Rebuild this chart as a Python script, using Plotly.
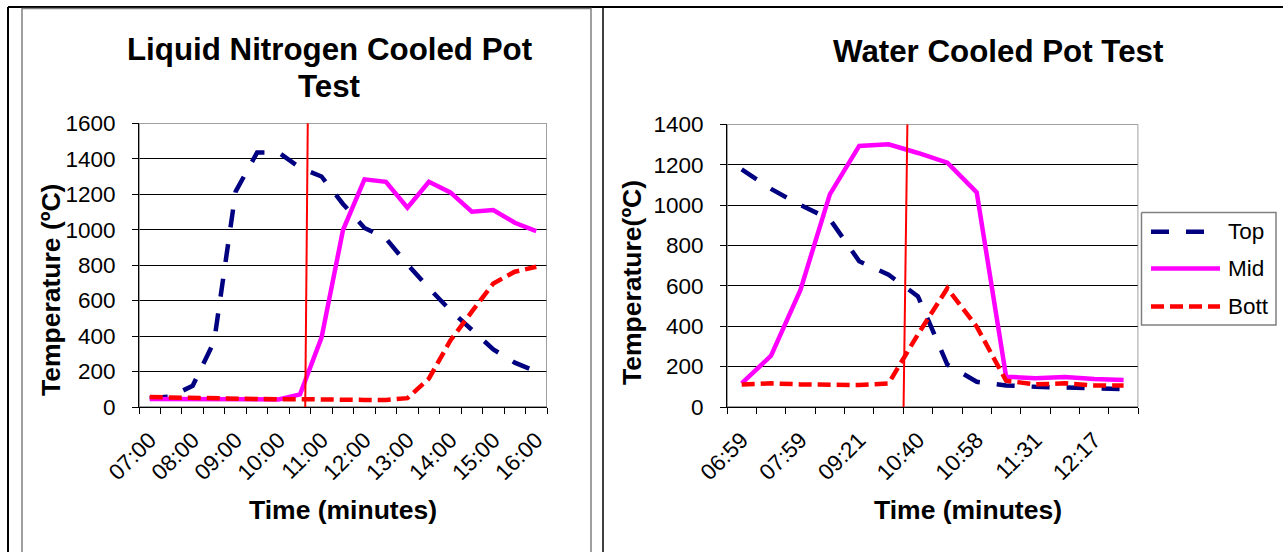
import plotly.graph_objects as go

W, H = 1284, 552
FONT = "Liberation Sans, Arial, sans-serif"

# ---------------- data ----------------
ln_times = ["07:00", "07:30", "08:00", "08:30", "09:00", "09:30", "10:00", "10:30",
            "11:00", "11:30", "12:00", "12:30", "13:00", "13:30", "14:00", "14:30",
            "15:00", "15:30", "16:00"]
ln_top = [50, 60, 120, 370, 1215, 1435, 1435, 1350, 1300, 1145, 1010, 950, 805, 670,
          545, 435, 325, 250, 200]
ln_mid = [45, 44, 43, 42, 40, 40, 43, 71, 391, 998, 1284, 1270, 1124, 1270, 1210,
          1101, 1111, 1039, 992]
ln_bott = [56, 53, 49, 46, 43, 43, 43, 44, 41, 40, 40, 40, 50, 160, 375, 538, 697,
           763, 791]
ln_tick_labels = ["07:00", "08:00", "09:00", "10:00", "11:00", "12:00", "13:00",
                  "14:00", "15:00", "16:00"]
ln_marker_x = [7.24, 7.36]     # red vertical marker (category units), bottom/top
ln_marker_y = [-15, 1609]

wc_tick_labels = ["06:59", "07:59", "09:21", "10:40", "10:58", "11:31", "12:17"]
wc_top = [1177, 1080, 1000, 930, 722, 655, 548, 210, 125, 107, 100, 96, 89, 89]
wc_mid = [117, 254, 580, 1053, 1293, 1301, 1258, 1210, 1063, 150, 142, 149, 139, 134]
wc_bott = [112, 117, 112, 109, 109, 117, 360, 588, 398, 130, 112, 117, 107, 106]
wc_marker_x = [5.51, 5.64]
wc_marker_y = [0, 1400]

series_names = ["Top", "Mid", "Bott"]
colors = {"Top": "#000080", "Mid": "#FF00FF", "Bott": "#FF0000"}
dashes = {"Top": "18px,17px", "Mid": "solid", "Bott": "13px,6px"}
widths = {"Top": 4.5, "Mid": 4.5, "Bott": 4.5}


def px(x):
    return x / W


def py(y):
    return (H - y) / H


fig = go.Figure()


def deco(x, y, color, width, xa="x3", ya="y3", dash="solid"):
    fig.add_trace(go.Scatter(x=x, y=y, mode="lines", xaxis=xa, yaxis=ya,
                             showlegend=False, hoverinfo="skip", cliponaxis=False,
                             line=dict(color=color, width=width, dash=dash)))


n_ln = len(ln_times)
n_wc = len(wc_top)

# gray plot-area borders (under the data)
deco([-0.5, n_ln - 0.5, n_ln - 0.5, -0.5, -0.5], [0, 0, 1600, 1600, 0], "#808080", 1.5, "x", "y")
deco([-0.5, n_wc - 0.5, n_wc - 0.5, -0.5, -0.5], [0, 0, 1400, 1400, 0], "#808080", 1.5, "x2", "y2")

for axis_id, data in (("", (ln_top, ln_mid, ln_bott)), ("2", (wc_top, wc_mid, wc_bott))):
    for name, vals in zip(series_names, data):
        fig.add_trace(go.Scatter(
            x=list(range(len(vals))), y=vals, mode="lines", name=name,
            xaxis="x" + axis_id, yaxis="y" + axis_id, showlegend=False,
            line=dict(color=colors[name], width=widths[name], dash=dashes[name]),
            hoverinfo="skip"))

# red vertical markers
deco(ln_marker_x, ln_marker_y, "#FF0000", 2, "x", "y")
deco(wc_marker_x[::-1], wc_marker_y[::-1], "#FF0000", 2, "x2", "y2")

# page frame lines (pixel space overlay axis)
deco([8, W - 1], [7, 7], "black", 2)
deco([8, 8], [7, H], "black", 2)
deco([603, 603], [7, H], "black", 1.5)
deco([22, 22, 591, 591], [H, 8.5, 8.5, H], "#808080", 1.5)

# legend box and samples
legend_y = [231.7, 268.5, 306.5]
deco([1141.5, 1276, 1276, 1141.5, 1141.5], [212.5, 212.5, 325, 325, 212.5], "#808080", 1.5)
for name, ly in zip(series_names, legend_y):
    deco([1151, 1220], [ly, ly], colors[name], widths[name], dash=dashes[name])

common_x = dict(
    showline=True, linecolor="black", linewidth=1, showgrid=False, zeroline=False,
    tickmode="array", ticks="", tickangle=-45, automargin=False,
    tickfont=dict(family=FONT, size=22.5, color="black"),
    ticklabelstandoff=10,
)
common_y = dict(
    showline=True, linecolor="black", linewidth=1, showgrid=True, gridcolor="black",
    gridwidth=1, zeroline=False, ticks="outside", ticklen=6, tickcolor="black",
    tickfont=dict(family=FONT, size=22.5, color="black"), dtick=200, automargin=False,
    ticklabelstandoff=12,
)

fig.update_layout(
    width=W, height=H, autosize=False,
    margin=dict(l=0, r=0, t=0, b=0, pad=0, autoexpand=False),
    paper_bgcolor="white", plot_bgcolor="rgba(0,0,0,0)", showlegend=False,
    xaxis=dict(common_x, domain=[px(139), px(547)], range=[-0.5, n_ln - 0.5],
               tickvals=list(range(0, n_ln, 2)), ticktext=ln_tick_labels,
               minor=dict(tickmode="array", tickvals=[i - 0.5 for i in range(n_ln + 1)],
                          ticks="outside", ticklen=6, tickcolor="black", showgrid=False),
               anchor="y"),
    yaxis=dict(common_y, domain=[py(407), py(123.3)], range=[0, 1600], anchor="x"),
    xaxis2=dict(common_x, domain=[px(727), px(1138.3)], range=[-0.5, n_wc - 0.5],
                tickvals=list(range(0, n_wc, 2)), ticktext=wc_tick_labels,
                minor=dict(tickmode="array", tickvals=[i - 0.5 for i in range(n_wc + 1)],
                           ticks="outside", ticklen=6, tickcolor="black", showgrid=False),
                anchor="y2"),
    yaxis2=dict(common_y, domain=[py(407), py(124.3)], range=[0, 1400], anchor="x2"),
    xaxis3=dict(domain=[0, 1], range=[0, W], visible=False, anchor="y3", automargin=False),
    yaxis3=dict(domain=[0, 1], range=[H, 0], visible=False, anchor="x3", automargin=False),
)

ann = []


def text(x, y, s, size, bold=False, angle=0, xanchor="center"):
    ann.append(dict(x=px(x), y=py(y), xref="paper", yref="paper",
                    text=(f"<b>{s}</b>" if bold else s),
                    showarrow=False, xanchor=xanchor, yanchor="middle", textangle=angle,
                    font=dict(family=FONT, size=size, color="black")))


text(330, 50, "Liquid Nitrogen Cooled Pot", 31.3, bold=True)
text(330, 86, "Test", 31.3, bold=True)
text(998.5, 52, "Water Cooled Pot Test", 31.3, bold=True)
text(51, 290, "Temperature (ºC)", 26.5, bold=True, angle=-90)
text(632, 283, "Temperature(ºC)", 26.5, bold=True, angle=-90)
text(342.5, 510, "Time (minutes)", 26.5, bold=True)
text(967.5, 510, "Time (minutes)", 26.5, bold=True)
for name, ly in zip(series_names, legend_y):
    text(1226, ly, name, 22.5, xanchor="left")
fig.update_layout(annotations=ann)

fig.write_html("out.html", config={"staticPlot": True, "displayModeBar": False})
